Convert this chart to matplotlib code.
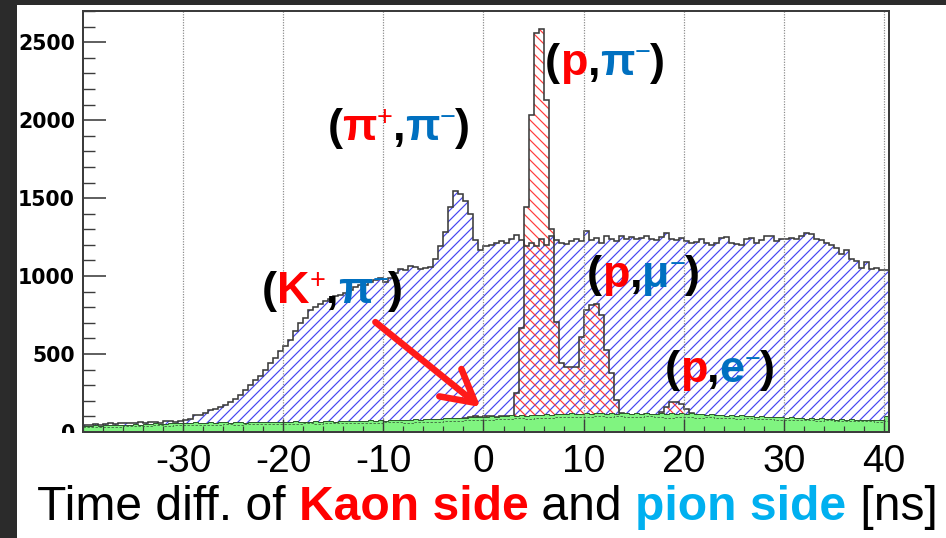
import matplotlib
matplotlib.use('Agg')
import matplotlib.pyplot as plt
from matplotlib.patches import Rectangle
from matplotlib.ticker import MultipleLocator, FixedLocator
from matplotlib.transforms import offset_copy
import numpy as np

DPI = 120
W, H = 946, 538


def pt(px):
    # pixel size -> points at this dpi
    return px * 72.0 / DPI


# time difference bins [ns], 0.5 ns wide
edges = np.arange(-40.0, 40.51, 0.5)

# all events (blue hatched)
blue_counts = [
    45, 48, 50, 47, 52, 55, 50, 58, 55, 60,          # -40
    58, 62, 60, 65, 63, 60, 68, 70, 66, 72,          # -35
    78, 82, 108, 112, 125, 140, 148, 160, 175, 195,  # -30
    210, 240, 270, 300, 335, 360, 400, 440, 475, 520,  # -25
    550, 590, 650, 700, 730, 780, 800, 820, 840, 850,  # -20
    870, 880, 890, 910, 930, 945, 940, 960, 975, 985,  # -15
    960, 990, 1020, 1045, 1040, 1065, 1055, 1045, 1050, 1060,  # -10
    1110, 1190, 1280, 1440, 1545, 1525, 1480, 1400, 1230, 1170,  # -5
    1190, 1200, 1215, 1225, 1210, 1240, 1265, 1230, 1190, 1215,  # 0
    1190, 1240, 1200, 1260, 1230, 1215, 1205, 1225, 1240, 1225,  # 5
    1290, 1230, 1245, 1215, 1255, 1240, 1225, 1260, 1240, 1250,  # 10
    1235, 1245, 1255, 1240, 1230, 1250, 1275, 1240, 1230, 1245,  # 15
    1225, 1210, 1220, 1240, 1210, 1200, 1215, 1245, 1250, 1215,  # 20
    1205, 1200, 1240, 1245, 1210, 1230, 1260, 1255, 1225, 1240,  # 25
    1235, 1245, 1240, 1255, 1275, 1270, 1240, 1230, 1215, 1200,  # 30
    1180, 1140, 1165, 1110, 1095, 1050, 1090, 1045, 1050, 1040,  # 35
    1040,                                                        # 40
]

# p + pi- candidates (red hatched)
red_counts = [0] * 76 + [
    90, 95, 100, 95,                                             # -2
    100, 105, 95, 100, 105, 100, 250, 670, 1444, 2032,           # 0
    2557, 2583, 2128, 1300, 707, 442, 420, 415, 418, 611,        # 5
    782, 814, 820, 750, 525, 378, 205, 122, 110, 105,            # 10
    112, 108, 115, 110, 105, 130, 160, 190, 195, 180,            # 15
    150, 120, 105, 100,                                          # 20
] + [0] * 37

# accidental background (green)
green_counts = [
    38, 40, 42, 40, 45, 43, 46, 44, 48, 47,
    50, 48, 52, 50, 55, 53, 52, 56, 55, 58,
    60, 58, 62, 57, 60, 63, 58, 61, 64, 60,
    62, 65, 60, 63, 66, 62, 64, 67, 63, 65,
    66, 63, 68, 65, 67, 64, 69, 66, 68, 70,
    67, 70, 68, 72, 69, 73, 70, 74, 72, 75,
    73, 76, 78, 75, 80, 77, 82, 79, 84, 81,
    86, 83, 88, 90, 87, 92, 89, 95, 93, 98,
    96, 100, 98, 104, 101, 106, 103, 108, 105, 110,
    112, 108, 115, 111, 118, 114, 116, 120, 113, 118,
    121, 116, 119, 123, 117, 122, 118, 124, 120, 117,
    119, 115, 121, 117, 113, 119, 116, 121, 118, 122,
    116, 119, 113, 117, 110, 114, 108, 112, 105, 109,
    103, 107, 100, 104, 97, 101, 95, 99, 93, 96,
    91, 94, 88, 92, 86, 89, 84, 87, 82, 85,
    80, 83, 78, 81, 77, 79, 76, 78, 75, 77,
    100,
]

# second background estimate, 1 ns bins (dashed)
dash_edges = np.arange(-40.0, 41.01, 1.0)
dash_counts = [
    30, 32, 35, 33, 38, 36, 40, 42, 41, 44,
    45, 47, 44, 48, 50, 47, 52, 49, 53, 51,
    54, 52, 56, 53, 57, 55, 58, 56, 60, 58,
    61, 63, 60, 65, 67, 64, 70, 72, 75, 78,
    80, 84, 82, 88, 86, 92, 90, 95, 93, 98,
    96, 100, 97, 102, 99, 95, 100, 96, 92, 97,
    94, 90, 93, 88, 91, 85, 88, 82, 85, 80,
    78, 75, 77, 72, 74, 70, 72, 68, 70, 66,
    68,
]

x_ticks = [-30, -20, -10, 0, 10, 20, 30, 40]
x_tick_labels = ['-30', '-20', '-10', '0', '10', '20', '30', '40']
y_ticks = [0, 500, 1000, 1500, 2000, 2500]
y_tick_labels = ['0', '500', '1000', '1500', '2000', '2500']

RED = '#ff0000'
BLUE = '#0070c0'
CYAN = '#00b0f0'
FRAME = '#3c3c3c'

plt.rcParams['hatch.linewidth'] = pt(1.2)

fig = plt.figure(figsize=(W / DPI, H / DPI), dpi=DPI, facecolor='white')
ax = fig.add_axes([83 / W, (H - 432) / H, (889 - 83) / W, (432 - 11) / H])

ax.stairs(blue_counts, edges, fill=True, facecolor='none', edgecolor='#4646f0',
          hatch='////', linewidth=0, zorder=1.0)
ax.stairs(red_counts, edges, fill=True, facecolor='none', edgecolor='#ff3c3c',
          hatch='\\\\\\\\', linewidth=0, zorder=1.1)
ax.stairs(blue_counts, edges, color=FRAME, lw=pt(1.6), zorder=1.2)
ax.stairs(red_counts, edges, color=FRAME, lw=pt(1.6), zorder=1.3)
ax.stairs(green_counts, edges, fill=True, facecolor='#80f480', edgecolor='#2d5a2d',
          lw=pt(1.0), zorder=1.5)
ax.stairs(dash_counts, dash_edges, color='#3a5a3a', lw=pt(0.8), ls=(0, (3, 2)),
          baseline=None, zorder=1.6)

ax.set_xlim(-40, 40.5)
ax.set_ylim(0, 2700)
ax.xaxis.set_major_locator(FixedLocator(x_ticks))
ax.set_xticklabels(x_tick_labels, family='Liberation Sans', fontsize=pt(39))
ax.xaxis.set_minor_locator(MultipleLocator(2))
ax.yaxis.set_major_locator(FixedLocator(y_ticks))
ax.set_yticklabels(y_tick_labels, family='DejaVu Sans', weight='bold', fontsize=pt(20.5))
ax.yaxis.set_minor_locator(MultipleLocator(100))

ax.tick_params(axis='x', which='major', direction='in', length=pt(13), width=pt(1.4),
               color=FRAME, pad=pt(12))
ax.tick_params(axis='x', which='minor', direction='in', length=pt(6), width=pt(1.2), color=FRAME)
ax.tick_params(axis='y', which='major', direction='in', length=pt(23), width=pt(1.6),
               color=FRAME, pad=pt(8))
ax.tick_params(axis='y', which='minor', direction='in', length=pt(12), width=pt(1.4), color=FRAME)
ax.grid(axis='x', which='major', color='#8a8a8a', ls=(0, (1, 1.2)), lw=pt(1.2))
for sp in ax.spines.values():
    sp.set_color(FRAME)
    sp.set_linewidth(pt(2))

renderer = fig.canvas.get_renderer()


def draw_pieces(x0, y0, pieces, base, center=False, family='Liberation Sans'):
    # lay text pieces side by side on one baseline, from x0 or centred on it
    texts, offsets = [], []
    dx = 0.0
    for s, color, size, weight, rise in pieces:
        t = ax.text(x0, y0, s, transform=offset_copy(base, fig=fig, x=dx, y=rise, units='dots'),
                    color=color, fontsize=size, fontweight=weight, family=family,
                    va='baseline', ha='left', zorder=5, clip_on=False)
        texts.append(t)
        offsets.append((dx, rise))
        dx += t.get_window_extent(renderer).width
    if center:
        for t, (ox, rise) in zip(texts, offsets):
            t.set_transform(offset_copy(base, fig=fig, x=ox - dx / 2, y=rise, units='dots'))


BIG = pt(45)
SUP = pt(27)
RISE = 15


def pair(first, second, first_sup=None):
    p = [('(', 'k', BIG, 'bold', 0), (first, RED, BIG, 'bold', 0)]
    if first_sup:
        p.append((first_sup, RED, SUP, 'normal', RISE))
    p += [(',', 'k', BIG, 'bold', 0), (second, BLUE, BIG, 'bold', 0),
          ('\u2212', BLUE, SUP, 'normal', RISE), (')', 'k', BIG, 'bold', 0)]
    return p


draw_pieces(-15.6, 1871, pair('\u03c0', '\u03c0', '+'), ax.transData)
draw_pieces(6.15, 2287, pair('p', '\u03c0'), ax.transData)
draw_pieces(-22.1, 826, pair('K', '\u03c0', '+'), ax.transData)
draw_pieces(10.34, 929, pair('p', '\u03bc'), ax.transData)
draw_pieces(18.1, 320, pair('p', 'e'), ax.transData)

ax.annotate('', xy=(-0.3, 160), xytext=(-10.8, 705),
            arrowprops=dict(arrowstyle='->,head_length=1.0,head_width=0.55',
                            color='#ff1a1a', lw=pt(6.5), mutation_scale=pt(32),
                            shrinkA=0, shrinkB=0), zorder=6)

# axis title in coloured pieces
XL = pt(48)
draw_pieces(487 / W, 18 / H, [
    ('Time diff. of ', 'k', XL, 'normal', 0),
    ('Kaon side', RED, XL, 'bold', 0),
    (' and ', 'k', XL, 'normal', 0),
    ('pion side', CYAN, XL, 'bold', 0),
    (' [ns]', 'k', XL, 'normal', 0),
], fig.transFigure, center=True)

# lower half of the zero label is cut off, dark slide edges
fig.add_artist(Rectangle((17 / W, (H - 446) / H), (80 - 17) / W, 13 / H, transform=fig.transFigure,
                         facecolor='white', edgecolor='none', zorder=10))
fig.add_artist(Rectangle((0, 0), 17 / W, 1, transform=fig.transFigure,
                         facecolor='#2b2b2b', edgecolor='none', zorder=11))
fig.add_artist(Rectangle((0, 1 - 5 / H), 1, 5 / H, transform=fig.transFigure,
                         facecolor='#2b2b2b', edgecolor='none', zorder=11))

fig.savefig('out.png', dpi=DPI, facecolor='white')
